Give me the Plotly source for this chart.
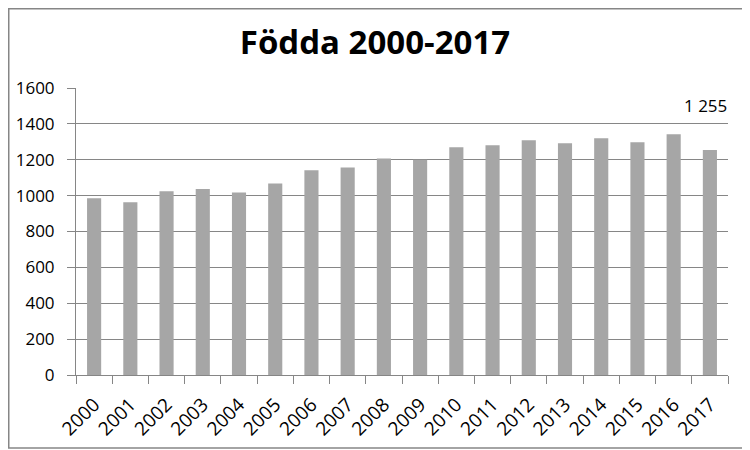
import plotly.graph_objects as go

years = [str(y) for y in range(2000, 2018)]
births = [985, 963, 1025, 1037, 1018, 1068, 1142, 1157, 1207, 1200,
          1270, 1281, 1309, 1292, 1320, 1298, 1342, 1255]
y_ticks = [0, 200, 400, 600, 800, 1000, 1200, 1400, 1600]

# page body has an 8px margin; size the figure so the plot lands where the reference has it
W, H = 742, 442
ml, mr, mt, mb = 68, 22, 80, 75
pw, ph = W - ml - mr, H - mt - mb

fig = go.Figure(go.Bar(x=years, y=births, marker_color="#A6A6A6",
                       marker_line_width=0, hoverinfo="x+y"))

last_label = f"{births[-1]:,}".replace(",", " ")
fig.add_annotation(x=len(years) - 1, y=1500, text=last_label, showarrow=False,
                   xshift=-4, font=dict(family="Open Sans", size=17, color="#000"))

# outer border
fig.add_shape(type="rect", xref="paper", yref="paper",
              x0=-(ml - 0.75) / pw, x1=1 + (mr - 2) / pw,
              y0=-(mb - 2) / ph, y1=1 + (mt - 0.75) / ph,
              line=dict(color="#868686", width=1.5), layer="above")

fig.update_layout(
    width=W, height=H,
    margin=dict(l=ml, r=mr, t=mt, b=mb, autoexpand=False),
    paper_bgcolor="white", plot_bgcolor="white",
    bargap=0.61,
    showlegend=False,
    title=dict(text="<b>Födda 2000-2017</b>", x=367 / W, xanchor="center",
               y=1 - 34 / H, yanchor="middle",
               font=dict(family="Open Sans", size=33, color="#000")),
    font=dict(family="Open Sans", size=17, color="#000"),
)
fig.update_xaxes(type="category", range=[-0.5, len(years) - 0.5], automargin=False,
                 showline=True, linecolor="#868686", linewidth=1,
                 ticks="outside", tickson="boundaries", ticklen=8, tickcolor="#868686",
                 tickangle=-45, showgrid=False, ticklabelstandoff=10,
                 tickfont=dict(family="Open Sans", size=19, color="#000"))
fig.update_yaxes(range=[0, 1600], tickvals=y_ticks, automargin=False,
                 showline=True, linecolor="#868686",
                 linewidth=1, ticks="outside", ticklen=8, tickcolor="#868686",
                 ticklabelstandoff=9,
                 showgrid=True, gridcolor="#868686", gridwidth=1, zeroline=False,
                 tickfont=dict(family="Open Sans", size=17, color="#000"))

fig.write_html("out.html")
